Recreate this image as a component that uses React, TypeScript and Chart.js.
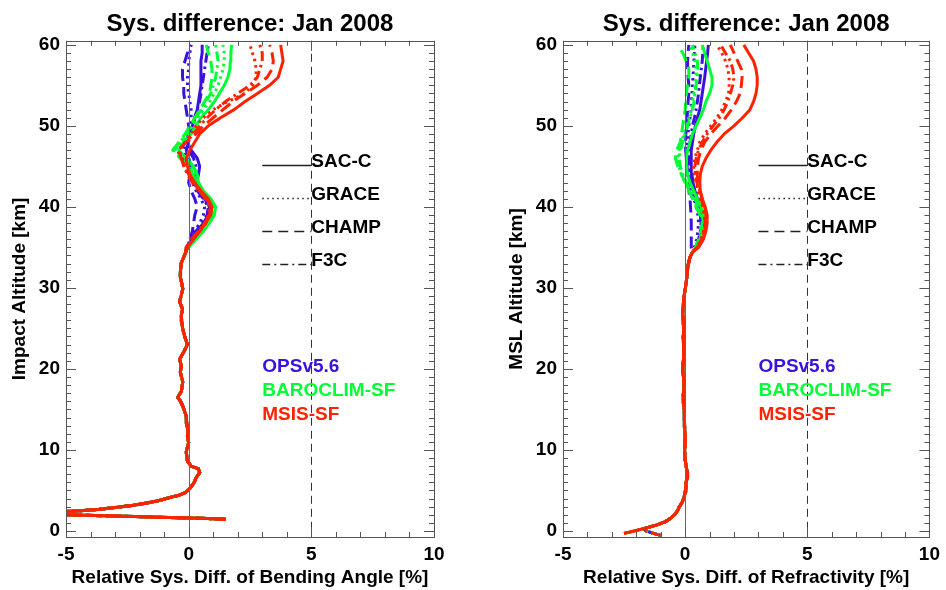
import React, { useEffect, useRef } from "react";
import { Chart, registerables } from "chart.js";

Chart.register(...registerables);

const FONT = '"Liberation Sans", Arial, Helvetica, sans-serif';

// ---------- tick labels / ranges ----------
const xTickLabels = [-5, 0, 5, 10];
const yTickLabels = [0, 10, 20, 30, 40, 50, 60];
const X_MIN = -5;
const X_MAX = 10;
const Y_MIN = -0.75;
const Y_MAX = 60.5;

// ---------- legend ----------
const missions = ["SAC-C", "GRACE", "CHAMP", "F3C"];
const missionLegendAlt = [45.2, 41.1, 37.0, 32.95];
const retrievals = ["OPSv5.6", "BAROCLIM-SF", "MSIS-SF"];
const retrievalLegendAlt = [19.65, 16.6, 13.7];

// ---------- common altitude grid of the upper part (km) ----------
const upAlt = [35, 36, 37, 38, 39, 40, 41, 42, 43, 44, 45, 46, 47, 48, 49, 50, 51, 52, 53, 54, 55, 56, 57, 58, 59, 60];

// ---------- LEFT: bending angle, lower part (shared by all series) ----------
const bendLowAlt = [1.45, 1.55, 1.65, 1.77, 1.9, 2.0, 2.15, 2.3, 2.4, 2.5, 2.65, 2.85, 3.15, 3.45, 3.75, 4.1, 4.4, 4.75, 5.25, 5.95, 6.55, 7.2, 7.65, 8.0, 8.65, 9.75, 10.9, 11.7, 12.5, 13.3, 14.2, 15.4, 16.1, 16.5, 17.2, 18.4, 19.1, 19.6, 20.4, 21.2, 22.1, 23.0, 23.9, 24.9, 25.8, 26.6, 27.4, 28.3, 29.1, 29.9, 30.8, 31.5, 32.3, 33.1, 33.8, 34.4];
const bendLowX = [1.5, 0.5, -0.8, -2.2, -3.8, -5.0, -6.5, -6.0, -5.0, -4.4, -3.7, -3.1, -2.3, -1.7, -1.2, -0.8, -0.4, -0.12, 0.05, 0.22, 0.3, 0.45, 0.4, 0.1, -0.05, -0.1, 0.0, -0.05, -0.04, -0.08, -0.1, -0.24, -0.35, -0.45, -0.3, -0.24, -0.3, -0.34, -0.3, -0.37, -0.2, -0.05, -0.15, -0.24, -0.28, -0.3, -0.25, -0.37, -0.3, -0.24, -0.3, -0.35, -0.33, -0.3, -0.2, -0.12];

// ---------- LEFT: bending angle, upper part (35..60 km) ----------
const bendMsisSacc = [-0.05, 0.2, 0.45, 0.7, 0.9, 0.95, 0.8, 0.5, 0.25, 0.05, -0.05, -0.1, 0.05, 0.25, 0.45, 0.8, 1.3, 1.85, 2.3, 2.8, 3.3, 3.65, 3.75, 3.85, 3.8, 3.75];
const bendMsisGrace = [-0.05, 0.15, 0.4, 0.65, 0.8, 0.85, 0.7, 0.45, 0.2, 0.0, -0.15, -0.25, -0.4, -0.15, 0.1, 0.3, 0.6, 1.0, 1.6, 2.3, 2.6, 2.75, 2.75, 2.7, 2.6, 2.5];
const bendMsisChamp = [-0.1, 0.1, 0.4, 0.65, 0.85, 0.9, 0.75, 0.45, 0.2, 0.0, -0.15, -0.3, -0.4, -0.1, 0.3, 0.6, 1.0, 1.4, 1.8, 2.3, 2.8, 3.2, 3.4, 3.45, 3.4, 3.3];
const bendMsisF3c = [-0.1, 0.15, 0.45, 0.7, 0.85, 0.9, 0.7, 0.4, 0.15, -0.05, -0.2, -0.3, -0.45, -0.1, 0.2, 0.45, 0.75, 1.1, 1.5, 2.0, 2.5, 2.8, 2.9, 3.0, 3.0, 2.9];

const bendBaroSacc = [0.0, 0.3, 0.6, 0.85, 1.05, 1.1, 0.9, 0.6, 0.4, 0.35, 0.2, -0.1, -0.4, -0.2, 0.1, 0.3, 0.5, 0.8, 1.05, 1.25, 1.45, 1.6, 1.68, 1.7, 1.72, 1.75];
const bendBaroGrace = [-0.05, 0.25, 0.55, 0.8, 1.0, 1.05, 0.85, 0.55, 0.35, 0.25, 0.1, -0.2, -0.55, -0.3, -0.05, 0.15, 0.35, 0.6, 0.85, 1.05, 1.2, 1.3, 1.4, 1.45, 1.45, 1.4];
const bendBaroChamp = [-0.1, 0.2, 0.45, 0.7, 0.9, 0.95, 0.75, 0.45, 0.25, 0.15, 0.0, -0.35, -0.65, -0.4, -0.15, 0.05, 0.25, 0.45, 0.65, 0.85, 0.9, 0.95, 0.95, 0.9, 0.8, 0.72];
const bendBaroF3c = [-0.05, 0.2, 0.5, 0.75, 0.95, 1.0, 0.8, 0.5, 0.3, 0.2, 0.05, -0.3, -0.6, -0.35, -0.1, 0.1, 0.3, 0.5, 0.7, 0.9, 1.0, 1.1, 1.15, 1.2, 1.15, 1.1];

const bendOpsSacc = [-0.05, 0.1, 0.35, 0.6, 0.8, 0.85, 0.65, 0.4, 0.3, 0.4, 0.45, 0.35, 0.1, -0.05, 0.05, 0.15, 0.25, 0.35, 0.4, 0.45, 0.5, 0.5, 0.5, 0.5, 0.55, 0.55];
const bendOpsGrace = [-0.05, 0.05, 0.25, 0.45, 0.6, 0.65, 0.5, 0.3, 0.15, 0.1, 0.05, 0.0, -0.2, -0.1, 0.0, 0.05, 0.1, 0.1, 0.05, 0.0, -0.05, -0.05, 0.0, 0.0, 0.05, 0.1];
const bendOpsChamp = [-0.05, 0.05, 0.15, 0.2, 0.25, 0.35, 0.25, 0.1, 0.0, 0.05, 0.1, 0.0, -0.1, 0.0, 0.05, 0.0, -0.05, -0.1, -0.15, -0.2, -0.2, -0.25, -0.25, -0.15, -0.05, 0.1];
const bendOpsF3c = [-0.05, 0.1, 0.3, 0.55, 0.75, 0.8, 0.6, 0.35, 0.25, 0.3, 0.3, 0.2, 0.0, -0.1, 0.0, 0.15, 0.25, 0.35, 0.45, 0.5, 0.55, 0.6, 0.65, 0.7, 0.75, 0.8];

// ---------- RIGHT: refractivity, lower part (shared) ----------
const refrLowAlt = [-0.3, -0.15, 0.05, 0.25, 0.47, 0.75, 1.15, 1.6, 2.05, 2.55, 2.96, 3.55, 4.2, 4.8, 5.3, 5.93, 6.5, 7.16, 7.8, 8.8, 9.8, 10.8, 11.8, 12.8, 13.8, 14.8, 15.8, 16.8, 17.8, 18.8, 19.8, 20.8, 21.8, 22.8, 23.8, 24.8, 25.8, 26.8, 27.8, 28.8, 29.8, 30.8, 31.8, 32.8, 33.8, 34.4];
const refrLowX = [-2.5, -2.28, -2.0, -1.75, -1.47, -1.15, -0.8, -0.58, -0.42, -0.3, -0.24, -0.12, -0.04, 0.0, 0.03, 0.03, 0.08, 0.1, 0.05, 0.0, -0.02, 0.0, 0.0, -0.02, -0.03, -0.04, -0.05, -0.08, -0.04, -0.06, -0.1, -0.08, -0.05, -0.06, -0.08, -0.06, -0.08, -0.1, -0.08, -0.05, 0.0, 0.05, 0.08, 0.12, 0.2, 0.3];
// shorter bottom hook of the OPS / BAROCLIM profiles (replaces the first 4 points)
const refrHookAlt = [-0.55, -0.3, 0.0, 0.25];
const refrHookX = [-1.0, -1.3, -1.6, -1.7];

// ---------- RIGHT: refractivity, upper part (35..60 km) ----------
const refrMsisSacc = [0.55, 0.75, 0.85, 0.9, 0.9, 0.82, 0.7, 0.62, 0.6, 0.62, 0.7, 0.85, 1.05, 1.3, 1.6, 2.0, 2.35, 2.65, 2.8, 2.9, 2.95, 2.95, 2.9, 2.8, 2.6, 2.4];
const refrMsisGrace = [0.48, 0.65, 0.75, 0.8, 0.78, 0.72, 0.62, 0.52, 0.45, 0.38, 0.35, 0.4, 0.5, 0.6, 0.8, 1.05, 1.3, 1.5, 1.65, 1.78, 1.8, 1.8, 1.75, 1.65, 1.5, 1.3];
const refrMsisChamp = [0.5, 0.7, 0.8, 0.85, 0.85, 0.8, 0.7, 0.6, 0.52, 0.5, 0.5, 0.55, 0.65, 0.8, 1.05, 1.35, 1.65, 1.9, 2.1, 2.25, 2.3, 2.33, 2.3, 2.15, 2.0, 1.85];
const refrMsisF3c = [0.5, 0.68, 0.78, 0.82, 0.8, 0.75, 0.65, 0.55, 0.48, 0.42, 0.4, 0.45, 0.55, 0.7, 0.9, 1.15, 1.4, 1.6, 1.75, 1.85, 1.95, 2.0, 1.95, 1.85, 1.65, 1.45];

const refrBaroSacc = [0.5, 0.65, 0.75, 0.8, 0.75, 0.65, 0.5, 0.35, 0.2, 0.1, 0.05, 0.05, 0.1, 0.2, 0.3, 0.45, 0.6, 0.75, 0.85, 1.0, 1.1, 1.1, 1.0, 0.9, 0.8, 0.7];
const refrBaroGrace = [0.45, 0.58, 0.68, 0.72, 0.65, 0.5, 0.35, 0.15, 0.0, -0.15, -0.25, -0.3, -0.25, -0.15, -0.05, 0.05, 0.15, 0.25, 0.3, 0.35, 0.4, 0.45, 0.45, 0.4, 0.3, 0.2];
const refrBaroChamp = [0.42, 0.55, 0.65, 0.7, 0.6, 0.45, 0.3, 0.15, 0.0, -0.15, -0.3, -0.4, -0.35, -0.2, -0.15, -0.1, -0.05, 0.0, 0.03, 0.05, 0.1, 0.15, 0.15, 0.05, -0.1, -0.3];
const refrBaroF3c = [0.45, 0.6, 0.7, 0.75, 0.7, 0.55, 0.4, 0.2, 0.05, -0.1, -0.2, -0.25, -0.2, -0.1, 0.0, 0.1, 0.2, 0.3, 0.37, 0.4, 0.45, 0.5, 0.52, 0.5, 0.4, 0.3];

const refrOpsSacc = [0.45, 0.58, 0.68, 0.72, 0.68, 0.6, 0.5, 0.4, 0.32, 0.28, 0.25, 0.25, 0.25, 0.3, 0.35, 0.42, 0.5, 0.6, 0.65, 0.7, 0.75, 0.8, 0.84, 0.88, 0.92, 0.95];
const refrOpsGrace = [0.38, 0.47, 0.52, 0.55, 0.52, 0.45, 0.36, 0.28, 0.2, 0.16, 0.12, 0.1, 0.08, 0.1, 0.12, 0.15, 0.2, 0.24, 0.26, 0.28, 0.3, 0.32, 0.34, 0.36, 0.38, 0.4];
const refrOpsChamp = [0.25, 0.25, 0.25, 0.25, 0.24, 0.22, 0.2, 0.15, 0.12, 0.1, 0.08, 0.05, 0.02, 0.02, 0.03, 0.05, 0.08, 0.1, 0.12, 0.15, 0.15, 0.12, 0.1, 0.1, 0.12, 0.15];
const refrOpsF3c = [0.42, 0.55, 0.62, 0.65, 0.62, 0.55, 0.45, 0.35, 0.28, 0.22, 0.18, 0.15, 0.15, 0.2, 0.25, 0.3, 0.38, 0.45, 0.5, 0.55, 0.58, 0.62, 0.66, 0.7, 0.72, 0.75];

// ---------- styles ----------
const COLORS = { ops: "#3a12dc", baro: "#00ff33", msis: "#ff2200" };
const retrievalColors = [COLORS.ops, COLORS.baro, COLORS.msis];
const DASH_DATA: Record<string, number[]> = {
  solid: [],
  dotted: [2.5, 4],
  dashed: [12, 6],
  dashdot: [10, 4, 2.5, 4],
};
const DASH_LEGEND: Record<string, number[]> = {
  solid: [],
  dotted: [1.5, 3.5],
  dashed: [10, 6],
  dashdot: [8, 4, 2, 4],
};
const missionStyles = ["solid", "dotted", "dashed", "dashdot"];

type Hook = { alt: number[]; x: number[] } | null;

function profile(lowAlt: number[], lowX: number[], up: number[], hook: Hook) {
  const pts: { x: number; y: number }[] = [];
  let start = 0;
  if (hook) {
    hook.alt.forEach((a, i) => pts.push({ x: hook.x[i], y: a }));
    start = hook.alt.length;
  }
  for (let i = start; i < lowAlt.length; i++) pts.push({ x: lowX[i], y: lowAlt[i] });
  upAlt.forEach((a, i) => pts.push({ x: up[i], y: a }));
  return pts;
}

type Spec = { color: string; style: string; up: number[]; hook?: boolean };

function buildDatasets(lowAlt: number[], lowX: number[], specs: Spec[], hook: Hook) {
  return specs.map((s) => ({
    data: profile(lowAlt, lowX, s.up, s.hook ? hook : null),
    borderColor: s.color,
    backgroundColor: s.color,
    borderWidth: 3,
    borderDash: DASH_DATA[s.style],
    borderCapStyle: "butt" as const,
    borderJoinStyle: "round" as const,
    pointRadius: 0,
    tension: 0,
    fill: false,
  }));
}

// first dataset is painted last (on top): red first
const bendSpecs: Spec[] = [
  { color: COLORS.msis, style: "solid", up: bendMsisSacc },
  { color: COLORS.msis, style: "dotted", up: bendMsisGrace },
  { color: COLORS.msis, style: "dashed", up: bendMsisChamp },
  { color: COLORS.msis, style: "dashdot", up: bendMsisF3c },
  { color: COLORS.baro, style: "solid", up: bendBaroSacc },
  { color: COLORS.baro, style: "dotted", up: bendBaroGrace },
  { color: COLORS.baro, style: "dashed", up: bendBaroChamp },
  { color: COLORS.baro, style: "dashdot", up: bendBaroF3c },
  { color: COLORS.ops, style: "solid", up: bendOpsSacc },
  { color: COLORS.ops, style: "dotted", up: bendOpsGrace },
  { color: COLORS.ops, style: "dashed", up: bendOpsChamp },
  { color: COLORS.ops, style: "dashdot", up: bendOpsF3c },
];

const refrSpecs: Spec[] = [
  { color: COLORS.msis, style: "solid", up: refrMsisSacc },
  { color: COLORS.msis, style: "dotted", up: refrMsisGrace },
  { color: COLORS.msis, style: "dashed", up: refrMsisChamp },
  { color: COLORS.msis, style: "dashdot", up: refrMsisF3c, hook: true },
  { color: COLORS.baro, style: "solid", up: refrBaroSacc },
  { color: COLORS.baro, style: "dotted", up: refrBaroGrace, hook: true },
  { color: COLORS.baro, style: "dashed", up: refrBaroChamp },
  { color: COLORS.baro, style: "dashdot", up: refrBaroF3c, hook: true },
  { color: COLORS.ops, style: "solid", up: refrOpsSacc, hook: true },
  { color: COLORS.ops, style: "dotted", up: refrOpsGrace, hook: true },
  { color: COLORS.ops, style: "dashed", up: refrOpsChamp, hook: true },
  { color: COLORS.ops, style: "dashdot", up: refrOpsF3c, hook: true },
];

const AXIS_COLOR = "#555555";

const decorPlugin = {
  id: "decor",
  afterDatasetsDraw(chart: any) {
    const { ctx, chartArea } = chart;
    const xs = chart.scales.x;
    const { top, bottom } = chartArea;
    ctx.save();
    const x0 = Math.round(xs.getPixelForValue(0)) + 0.5;
    ctx.strokeStyle = "#8a4f8f";
    ctx.lineWidth = 1;
    ctx.setLineDash([]);
    ctx.beginPath();
    ctx.moveTo(x0, top);
    ctx.lineTo(x0, bottom);
    ctx.stroke();
    const x5 = Math.round(xs.getPixelForValue(5)) + 0.5;
    ctx.strokeStyle = "#333";
    ctx.setLineDash([8, 5]);
    ctx.beginPath();
    ctx.moveTo(x5, top);
    ctx.lineTo(x5, bottom);
    ctx.stroke();
    ctx.restore();
  },
  afterDraw(chart: any) {
    const { ctx, chartArea } = chart;
    const xs = chart.scales.x;
    const ys = chart.scales.y;
    const { left, right, top, bottom } = chartArea;
    ctx.save();
    ctx.strokeStyle = AXIS_COLOR;
    ctx.lineWidth = 1;
    ctx.setLineDash([]);
    ctx.strokeRect(Math.round(left) + 0.5, Math.round(top) + 0.5, Math.round(right - left), Math.round(bottom - top));
    ctx.beginPath();
    for (let v = X_MIN; v <= X_MAX; v += 1) {
      const px = Math.round(xs.getPixelForValue(v)) + 0.5;
      const len = v % 5 === 0 ? 10 : 5;
      ctx.moveTo(px, bottom);
      ctx.lineTo(px, bottom - len);
      ctx.moveTo(px, top);
      ctx.lineTo(px, top + len);
    }
    for (let v = 0; v <= 60; v += 1) {
      const py = Math.round(ys.getPixelForValue(v)) + 0.5;
      const len = v % 10 === 0 ? 10 : 5;
      ctx.moveTo(left, py);
      ctx.lineTo(left + len, py);
      ctx.moveTo(right, py);
      ctx.lineTo(right - len, py);
    }
    ctx.stroke();

    const lx0 = xs.getPixelForValue(3);
    const lx1 = xs.getPixelForValue(5);
    ctx.font = `bold 19px ${FONT}`;
    ctx.textBaseline = "alphabetic";
    ctx.textAlign = "left";
    missions.forEach((m, i) => {
      const py = Math.round(ys.getPixelForValue(missionLegendAlt[i])) + 0.5;
      ctx.strokeStyle = "#222";
      ctx.lineWidth = 1.3;
      ctx.setLineDash(DASH_LEGEND[missionStyles[i]]);
      ctx.beginPath();
      ctx.moveTo(lx0, py);
      ctx.lineTo(lx1, py);
      ctx.stroke();
      ctx.fillStyle = "#000";
      ctx.fillText(m, lx1, py + 1);
    });
    retrievals.forEach((r, i) => {
      ctx.fillStyle = retrievalColors[i];
      ctx.fillText(r, lx0, ys.getPixelForValue(retrievalLegendAlt[i]));
    });
    ctx.restore();
  },
};

function Panel({ offset, padLeft, padRight, xTitle, yTitle, lowAlt, lowX, specs, hook }: any) {
  const ref = useRef<HTMLCanvasElement>(null);
  useEffect(() => {
    if (!ref.current) return;
    const font = { family: FONT, size: 19, weight: "bold" as const };
    const chart = new Chart(ref.current, {
      type: "line",
      data: { datasets: buildDatasets(lowAlt, lowX, specs, hook || null) as any },
      options: {
        animation: false,
        responsive: false,
        devicePixelRatio: 1,
        layout: { padding: { left: padLeft, right: padRight, top: 0, bottom: 0 } },
        plugins: {
          legend: { display: false },
          tooltip: { enabled: false },
          title: {
            display: true,
            text: "Sys. difference: Jan 2008",
            fullSize: false,
            color: "#000",
            font: { family: FONT, size: 24, weight: "bold" },
            padding: { top: 10, bottom: 2 },
          },
        },
        scales: {
          x: {
            type: "linear",
            min: X_MIN,
            max: X_MAX,
            afterBuildTicks: (s: any) => {
              s.ticks = xTickLabels.map((v) => ({ value: v }));
            },
            afterFit: (s: any) => {
              s.height = 53;
            },
            grid: { display: false, drawTicks: false },
            border: { display: false },
            ticks: { font, color: "#000", padding: 6, maxRotation: 0, autoSkip: false },
            title: { display: true, text: xTitle, color: "#000", font, padding: { top: 0, bottom: 1 } },
          },
          y: {
            type: "linear",
            min: Y_MIN,
            max: Y_MAX,
            afterBuildTicks: (s: any) => {
              s.ticks = yTickLabels.map((v) => ({ value: v }));
            },
            afterFit: (s: any) => {
              s.width = 66;
            },
            grid: { display: false, drawTicks: false },
            border: { display: false },
            ticks: { font, color: "#000", padding: 6, autoSkip: false },
            title: { display: true, text: yTitle, color: "#000", font, padding: { top: 8, bottom: 0 } },
          },
        },
      },
      plugins: [decorPlugin],
    });
    return () => chart.destroy();
  }, []);
  return (
    <div style={{ position: "absolute", left: offset, top: 0, width: 473, height: 590 }}>
      <canvas ref={ref} width={473} height={590} style={{ display: "block" }} />
    </div>
  );
}

export default function App() {
  return (
    <div style={{ position: "fixed", left: 0, top: 0, width: 946, height: 590, background: "#fff" }}>
      <Panel
        offset={0}
        padLeft={0}
        padRight={39}
        xTitle="Relative Sys. Diff. of Bending Angle [%]"
        yTitle="Impact Altitude [km]"
        lowAlt={bendLowAlt}
        lowX={bendLowX}
        specs={bendSpecs}
      />
      <Panel
        offset={473}
        padLeft={24}
        padRight={14}
        xTitle="Relative Sys. Diff. of Refractivity [%]"
        yTitle="MSL Altitude [km]"
        lowAlt={refrLowAlt}
        lowX={refrLowX}
        specs={refrSpecs}
        hook={{ alt: refrHookAlt, x: refrHookX }}
      />
    </div>
  );
}
